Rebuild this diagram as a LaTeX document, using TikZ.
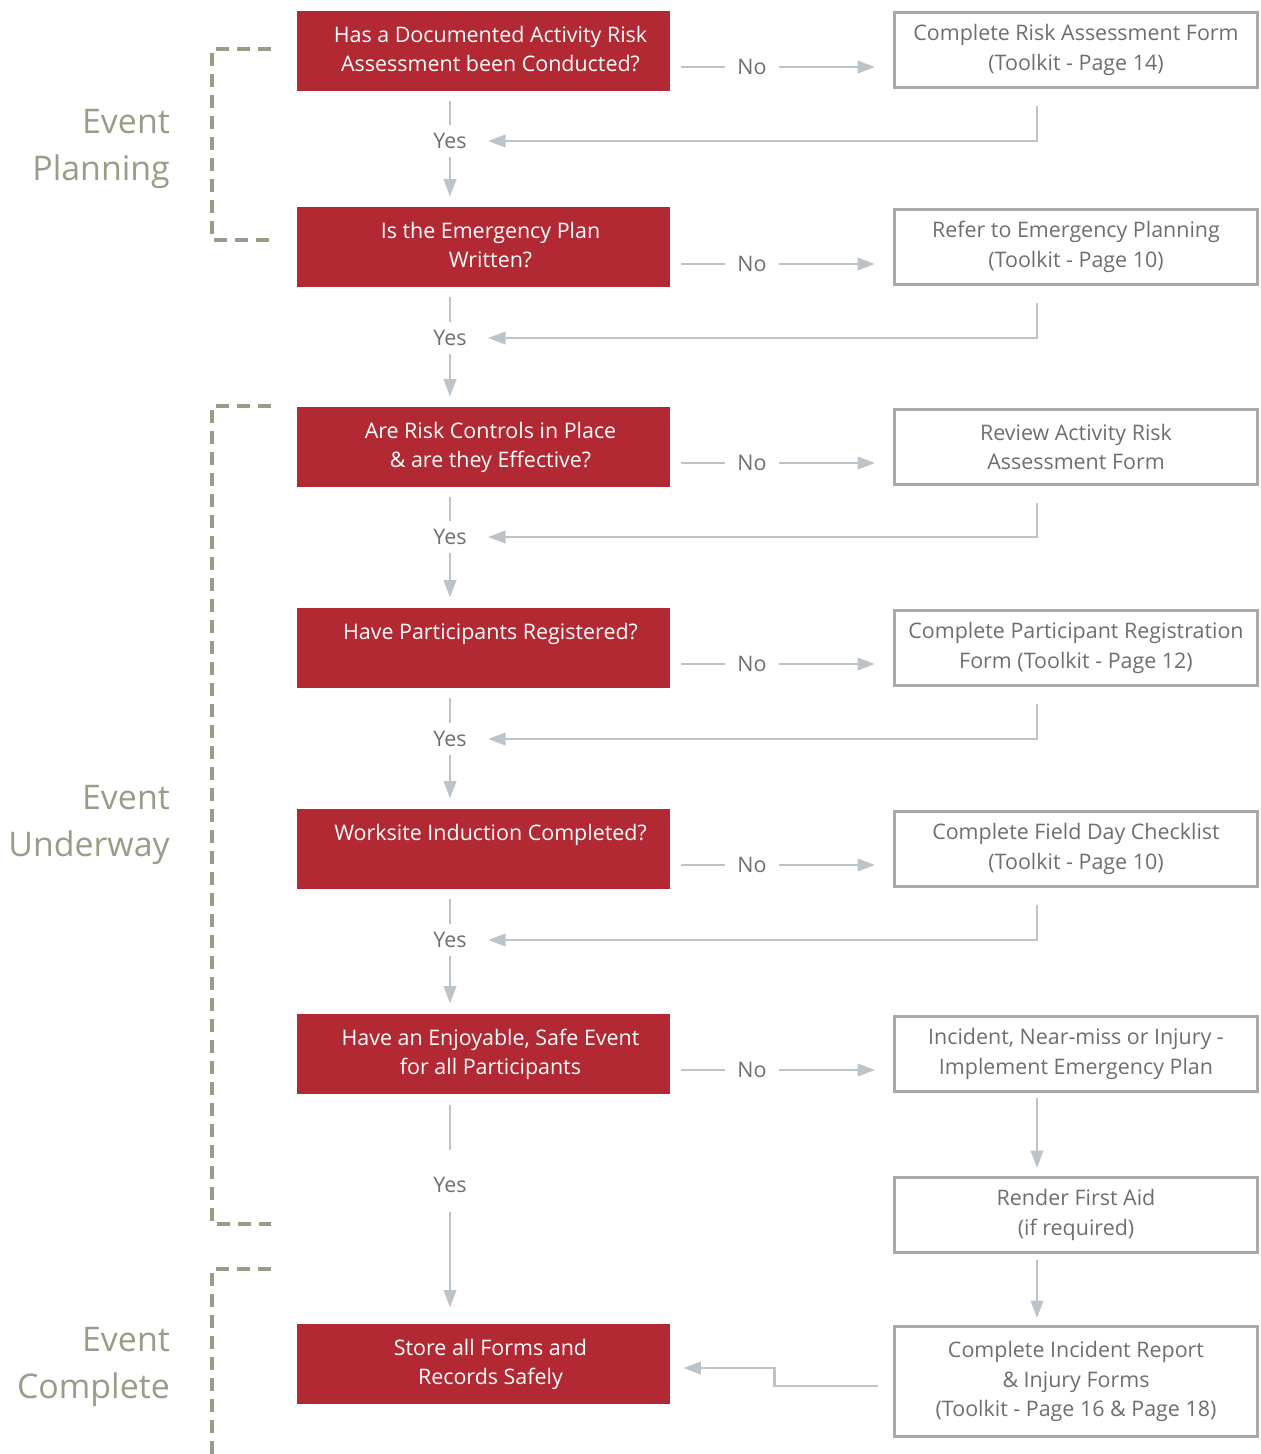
\documentclass[tikz,border=0pt]{standalone}
\usepackage{fontspec}
\setmainfont{Open Sans}
\usetikzlibrary{positioning,arrows.meta}

\definecolor{riskred}{HTML}{B22833}
\definecolor{boxgray}{HTML}{A7A9AC}
\definecolor{linkgray}{HTML}{BCC3C9}
\definecolor{inkgray}{HTML}{6D6E71}
\definecolor{phasegray}{HTML}{9C9B88}

% question text sits a little right of the box centre
\newcommand{\qtext}[1]{\hspace*{0.28cm}\begin{tabular}{@{}c@{}}#1\end{tabular}}

\begin{document}
\begin{tikzpicture}[
    x=0.02cm, y=-0.02cm,
    font=\fontsize{12.2}{17}\selectfont,
    qbox/.style={fill=riskred, text=white, inner sep=0pt,
                 minimum width=7.46cm, minimum height=1.6cm},
    abox/.style={draw=boxgray, line width=1.6pt, text=inkgray, align=center,
                 inner sep=0pt, minimum width=7.26cm, minimum height=1.5cm},
    tag/.style={text=inkgray, inner xsep=0.24cm, inner ysep=0.16cm},
    link/.style={draw=linkgray, line width=1.6pt,
                 >={Triangle[length=10pt, width=7pt]}},
    phase/.style={font=\fontsize{19.3}{26.3}\selectfont, text=phasegray,
                  align=right, anchor=east},
    brace/.style={draw=phasegray, line width=2.8pt,
                  dash pattern=on 0.26cm off 0.16cm},
  ]
  \useasboundingbox (0,0) rectangle (1261,1454);

  % --- columns and rows ---
  \def\colQ{483.5} \def\colA{1076}
  \def\colYes{450} \def\colNo{752}

  % --- question boxes (red) ---
  \node[qbox] (q1) at (\colQ,51)
    {\qtext{Has a Documented Activity Risk\\Assessment been Conducted?}};
  \node[qbox] (q2) at (\colQ,247) {\qtext{Is the Emergency Plan\\Written?}};
  \node[qbox] (q3) at (\colQ,447)
    {\qtext{Are Risk Controls in Place\\\& are they Effective?}};
  \node[qbox] (q4) at (\colQ,648) {\qtext{Have Participants Registered?\\\strut}};
  \node[qbox] (q5) at (\colQ,849) {\qtext{Worksite Induction Completed?\\\strut}};
  \node[qbox] (q6) at (\colQ,1054)
    {\qtext{Have an Enjoyable, Safe Event\\for all Participants}};
  \node[qbox] (q7) at (\colQ,1364) {\qtext{Store all Forms and\\Records Safely}};

  % --- action boxes (outlined) ---
  \node[abox] (a1) at (\colA,50)
    {Complete Risk Assessment Form\\(Toolkit - Page 14)};
  \node[abox] (a2) at (\colA,247)
    {Refer to Emergency Planning\\(Toolkit - Page 10)};
  \node[abox] (a3) at (\colA,447) {Review Activity Risk\\Assessment Form};
  \node[abox] (a4) at (\colA,648)
    {Complete Participant Registration\\Form (Toolkit - Page 12)};
  \node[abox] (a5) at (\colA,849)
    {Complete Field Day Checklist\\(Toolkit - Page 10)};
  \node[abox] (a6) at (\colA,1054)
    {Incident, Near-miss or Injury -\\Implement Emergency Plan};
  \node[abox] (a7) at (\colA,1215) {Render First Aid\\(if required)};
  \node[abox, minimum height=2.2cm] (a8) at (\colA,1381.5)
    {Complete Incident Report\\\& Injury Forms\\(Toolkit - Page 16 \& Page 18)};

  % --- yes / no tags ---
  \foreach \i/\y in {1/67,2/264,3/463,4/664,5/865,6/1070}
    \node[tag] (no\i) at (\colNo,\y) {No};
  \foreach \i/\y in {1/141,2/338,3/537,4/739,5/940,6/1185}
    \node[tag] (yes\i) at (\colYes,\y) {Yes};

  % --- no branches ---
  \foreach \i in {1,...,6} {
    \draw[link, shorten <=0.22cm] (q\i.east |- no\i) -- (no\i);
    \draw[link, ->, shorten >=0.36cm] (no\i) -- (a\i.west |- no\i);
  }

  % --- yes branches ---
  \foreach \i [evaluate=\i as \j using int(\i+1)] in {1,...,5} {
    \draw[link, shorten <=0.2cm] (q\i.south -| yes\i) -- (yes\i);
    \draw[link, ->, shorten >=0.2cm] (yes\i) -- (q\j.north -| yes\i);
    \draw[link, ->, shorten <=0.34cm, shorten >=0.18cm]
      ([xshift=-0.78cm]a\i.south) |- (yes\i);
  }
  \draw[link, shorten <=0.22cm, shorten >=0.38cm] (q6.south -| yes6) -- (yes6);
  \draw[link, ->, shorten <=0.22cm, shorten >=0.32cm] (yes6) -- (q7.north -| yes6);

  % --- incident path ---
  \draw[link, ->, shorten <=0.1cm, shorten >=0.16cm]
    ([xshift=-0.78cm]a6.south) -- ([xshift=-0.78cm]a7.north);
  \draw[link, ->, shorten <=0.12cm, shorten >=0.14cm]
    ([xshift=-0.78cm]a7.south) -- ([xshift=-0.78cm]a8.north);
  \draw[link, ->, shorten <=0.3cm, shorten >=0.26cm]
    ([yshift=-0.09cm]a8.west) -- ++(-2.38cm,0) |- ([yshift=-0.08cm]q7.east);

  % --- phase brackets ---
  \draw[brace] (271,49) -- (212,49) -- (212,240) -- (271,240);
  \draw[brace] (271,406) -- (212,406) -- (212,1224) -- (271,1224);
  \draw[brace] (271,1269) -- (212,1269) -- (212,1454);

  % --- phase labels ---
  \node[phase] (ph1) at (176,149) {Event\\Planning};
  \node[phase] (ph2) at (176,825) {Event\\Underway};
  \node[phase] (ph3) at (176,1367) {Event\\Complete};
\end{tikzpicture}
\end{document}
